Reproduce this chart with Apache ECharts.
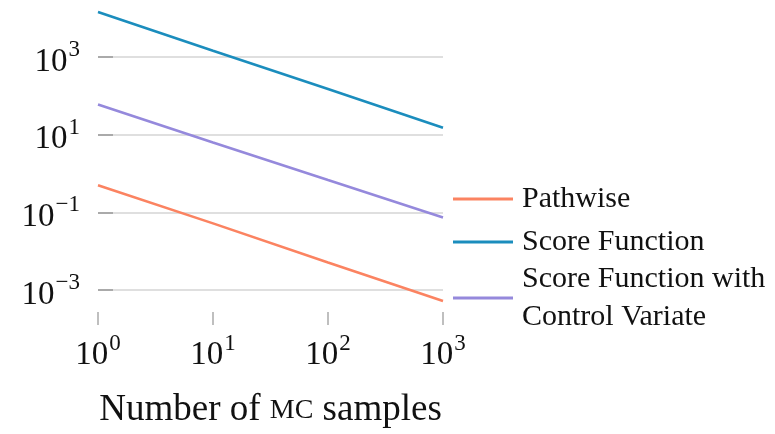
<!DOCTYPE html>
<html><head><meta charset="utf-8">
<script src="https://cdn.jsdelivr.net/npm/echarts@6/dist/echarts.min.js"></script>
<style>html,body{margin:0;padding:0;background:#fff}#c{width:775px;height:434px}</style>
</head><body><div id="c"></div>
<script>
const samples = [1, 10, 100, 1000];
const pathwise = [0.5, 0.052, 0.0051, 0.00052];
const scoreFunction = [14500, 1450, 150, 15];
const controlVariate = [60, 6.3, 0.68, 0.074];
const seriesNames = ['Pathwise', 'Score Function', 'Score Function with\nControl Variate'];
const colors = ['#fb8361', '#1b8dbd', '#9589dc'];
const FONT = '"Liberation Serif", "DejaVu Serif", serif';

function sup(v) {
  const e = Math.round(Math.log10(v));
  const s = e < 0 ? '\u2212' + (-e) : String(e);
  return '{b|10}{s|' + s + '}';
}
const rich = {
  b: {fontFamily: FONT, fontSize: 33, color: '#111', padding: [10, 0, 0, 0]},
  s: {fontFamily: FONT, fontSize: 23, color: '#111', padding: [0, 0, 14, 1]}
};
const mk = (arr) => samples.map((x, i) => [x, arr[i]]);
const data = [pathwise, scoreFunction, controlVariate];

const chart = echarts.init(document.getElementById('c'));
chart.setOption({
  animation: false,
  grid: {left: 98, right: 332, top: 57, bottom: 144},
  xAxis: {
    type: 'log', min: 1, max: 1000, logBase: 10,
    offset: 22,
    axisLine: {show: false},
    axisTick: {show: true, length: 13, lineStyle: {color: '#aaa', width: 1.5}},
    splitLine: {show: false},
    axisLabel: {formatter: sup, rich: rich, margin: 17},
    name: '{a|Number of }{c|MC}{a| samples}',
    nameLocation: 'middle', nameGap: 80,
    nameTextStyle: {rich: {a: {fontFamily: FONT, fontSize: 37, color: '#111'}, c: {fontFamily: FONT, fontSize: 28, color: '#111'}}}
  },
  yAxis: {
    type: 'log', min: 0.001, max: 1000, logBase: 10, interval: 2,
    axisLine: {show: false},
    axisTick: {show: true, inside: true, length: 15, lineStyle: {color: '#999', width: 1.5}},
    splitLine: {show: true, lineStyle: {color: '#d4d4d4', width: 1.5}},
    axisLabel: {formatter: sup, rich: rich, margin: 18}
  },
  legend: seriesNames.map((n, i) => ({
    data: [n], orient: 'vertical', left: 453,
    top: [180, 223, 260][i],
    itemWidth: 60, itemHeight: 3, itemGap: 0,
    icon: 'rect',
    textStyle: {fontFamily: FONT, fontSize: 30, color: '#111', lineHeight: 38, padding: [0, 0, 0, 4]},
    padding: 0
  })),
  series: seriesNames.map((n, i) => ({
    name: n, type: 'line', data: mk(data[i]), symbol: 'none', clip: false,
    color: colors[i],
    lineStyle: {width: 2.6, color: colors[i]}
  }))
});
</script></body></html>
